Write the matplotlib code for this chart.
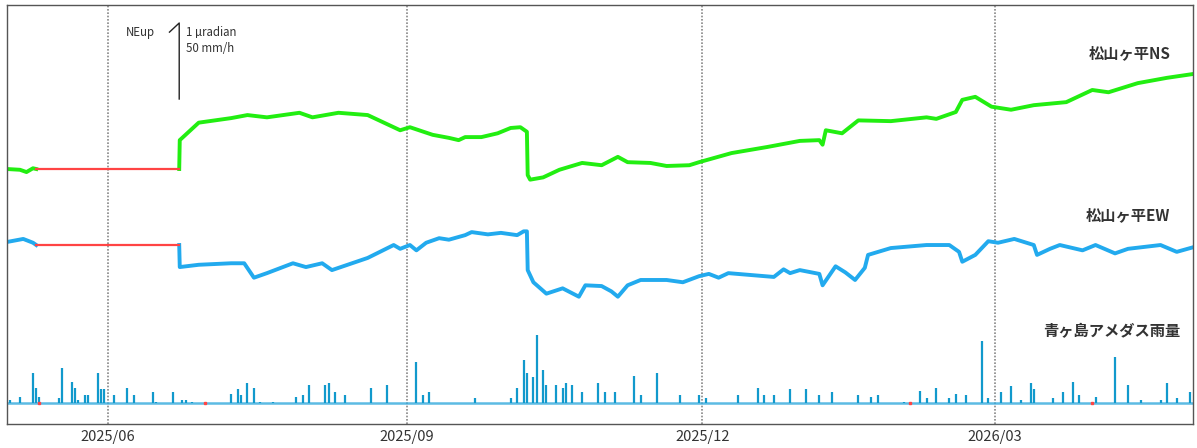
import matplotlib.pyplot as plt
import pandas as pd

# --- tilt, NS component (µradian, relative to start) ---
ns_dates = ['2025-05-01', '2025-05-05', '2025-05-07', '2025-05-09', '2025-05-10',
            '2025-06-23 00:00', '2025-06-23 04:00', '2025-06-29', '2025-07-09', '2025-07-14',
            '2025-07-20', '2025-07-30', '2025-08-03', '2025-08-11', '2025-08-20',
            '2025-08-25', '2025-08-30', '2025-09-02', '2025-09-09', '2025-09-14',
            '2025-09-17', '2025-09-19', '2025-09-24', '2025-09-29', '2025-10-03',
            '2025-10-06', '2025-10-08 00:00', '2025-10-08 06:00', '2025-10-09', '2025-10-13',
            '2025-10-18', '2025-10-25', '2025-10-31', '2025-11-05', '2025-11-08',
            '2025-11-15', '2025-11-20', '2025-11-27', '2025-11-30', '2025-12-10',
            '2025-12-21', '2025-12-31', '2026-01-06', '2026-01-07', '2026-01-08',
            '2026-01-13', '2026-01-18', '2026-01-28', '2026-02-08', '2026-02-11',
            '2026-02-17', '2026-02-19', '2026-02-23', '2026-02-28', '2026-03-06',
            '2026-03-13', '2026-03-23', '2026-03-31', '2026-04-05', '2026-04-14',
            '2026-04-23', '2026-05-01']
ns_vals = [0.00, -0.01, -0.04, 0.01, 0.00,
           0.00, 0.38, 0.61, 0.67, 0.71,
           0.68, 0.74, 0.68, 0.74, 0.71,
           0.61, 0.51, 0.55, 0.45, 0.41,
           0.38, 0.42, 0.42, 0.47, 0.54,
           0.55, 0.49, -0.08, -0.14, -0.11,
           -0.01, 0.08, 0.05, 0.16, 0.09,
           0.08, 0.04, 0.05, 0.09, 0.21,
           0.29, 0.37, 0.38, 0.32, 0.51,
           0.47, 0.64, 0.63, 0.68, 0.66,
           0.75, 0.91, 0.95, 0.82, 0.78,
           0.84, 0.88, 1.04, 1.01, 1.13,
           1.20, 1.25]

# --- tilt, EW component (µradian, relative to start) ---
ew_dates = ['2025-05-01', '2025-05-06', '2025-05-09', '2025-05-10',
            '2025-06-23 00:00', '2025-06-23 04:00', '2025-06-29', '2025-07-09', '2025-07-13',
            '2025-07-16', '2025-07-20', '2025-07-28', '2025-08-01', '2025-08-06',
            '2025-08-09', '2025-08-20', '2025-08-28', '2025-08-30', '2025-09-02',
            '2025-09-04', '2025-09-07', '2025-09-11', '2025-09-14', '2025-09-19',
            '2025-09-21', '2025-09-26', '2025-09-30', '2025-10-05', '2025-10-07',
            '2025-10-08 00:00', '2025-10-08 06:00', '2025-10-10', '2025-10-14', '2025-10-19',
            '2025-10-24', '2025-10-26', '2025-10-31', '2025-11-03', '2025-11-05',
            '2025-11-08', '2025-11-12', '2025-11-20', '2025-11-25', '2025-11-30',
            '2025-12-03', '2025-12-06', '2025-12-09', '2025-12-23', '2025-12-26',
            '2025-12-28', '2025-12-31', '2026-01-06', '2026-01-07', '2026-01-11',
            '2026-01-14', '2026-01-17', '2026-01-20', '2026-01-21', '2026-01-28',
            '2026-02-08', '2026-02-15', '2026-02-18', '2026-02-19', '2026-02-23',
            '2026-02-27', '2026-03-02', '2026-03-07', '2026-03-13', '2026-03-14',
            '2026-03-18', '2026-03-21', '2026-03-28', '2026-04-01', '2026-04-07',
            '2026-04-11', '2026-04-21', '2026-04-26', '2026-05-01']
ew_vals = [0.04, 0.08, 0.03, 0.00,
           0.00, -0.29, -0.26, -0.24, -0.24,
           -0.43, -0.37, -0.24, -0.29, -0.24,
           -0.33, -0.17, 0.00, -0.05, 0.00,
           -0.07, 0.03, 0.09, 0.07, 0.13,
           0.17, 0.14, 0.16, 0.13, 0.18,
           0.18, -0.33, -0.49, -0.64, -0.57,
           -0.68, -0.53, -0.54, -0.61, -0.68,
           -0.53, -0.46, -0.46, -0.49, -0.41,
           -0.38, -0.43, -0.37, -0.42, -0.32,
           -0.37, -0.33, -0.38, -0.53, -0.28,
           -0.36, -0.46, -0.30, -0.13, -0.04,
           0.00, 0.00, -0.09, -0.22, -0.13,
           0.05, 0.03, 0.08, 0.00, -0.13,
           -0.05, 0.00, -0.07, 0.00, -0.11,
           -0.05, 0.00, -0.09, -0.03]

# missing tilt data period (drawn in red)
gap_start = '2025-05-10'
gap_end = '2025-06-23'

# --- hourly rain at Aogashima AMeDAS (mm/h) ---
rain_dates = ['2025-05-02', '2025-05-05', '2025-05-09', '2025-05-10', '2025-05-11',
              '2025-05-17', '2025-05-18', '2025-05-21', '2025-05-22', '2025-05-23',
              '2025-05-25', '2025-05-26', '2025-05-29', '2025-05-30', '2025-05-31',
              '2025-06-03', '2025-06-07', '2025-06-09', '2025-06-15', '2025-06-16',
              '2025-06-21', '2025-06-24', '2025-06-25', '2025-06-27', '2025-07-09',
              '2025-07-11', '2025-07-12', '2025-07-14', '2025-07-16', '2025-07-18',
              '2025-07-22', '2025-07-29', '2025-07-31', '2025-08-02', '2025-08-07',
              '2025-08-08', '2025-08-10', '2025-08-13', '2025-08-21', '2025-08-26',
              '2025-09-04', '2025-09-06', '2025-09-08', '2025-09-22', '2025-10-03',
              '2025-10-05', '2025-10-07', '2025-10-08', '2025-10-10', '2025-10-11',
              '2025-10-13', '2025-10-14', '2025-10-17', '2025-10-19', '2025-10-20',
              '2025-10-22', '2025-10-25', '2025-10-30', '2025-11-01', '2025-11-04',
              '2025-11-10', '2025-11-12', '2025-11-17', '2025-11-24', '2025-11-30',
              '2025-12-02', '2025-12-12', '2025-12-18', '2025-12-20', '2025-12-23',
              '2025-12-28', '2026-01-02', '2026-01-06', '2026-01-10', '2026-01-18',
              '2026-01-22', '2026-01-24', '2026-02-01', '2026-02-06', '2026-02-08',
              '2026-02-11', '2026-02-15', '2026-02-17', '2026-02-20', '2026-02-25',
              '2026-02-27', '2026-03-03', '2026-03-06', '2026-03-09', '2026-03-12',
              '2026-03-13', '2026-03-19', '2026-03-22', '2026-03-25', '2026-03-27',
              '2026-04-01', '2026-04-07', '2026-04-11', '2026-04-15', '2026-04-21',
              '2026-04-23', '2026-04-26', '2026-04-30']
rain_vals = [2, 4, 20, 10, 4,
             3, 23, 14, 10, 2,
             5, 5, 20, 9, 9,
             5, 10, 5, 7, 1,
             7, 2, 2, 1, 6,
             9, 5, 13, 10, 1,
             1, 4, 5, 12, 12,
             13, 7, 5, 10, 12,
             27, 5, 7, 3, 3,
             10, 28, 20, 17, 45,
             22, 12, 12, 10, 13,
             12, 7, 13, 7, 7,
             18, 5, 20, 5, 5,
             3, 5, 10, 5, 5,
             9, 9, 5, 7, 5,
             4, 5, 1, 8, 3,
             10, 3, 6, 5, 41,
             3, 7, 11, 2, 13,
             9, 3, 7, 14, 5,
             4, 30, 12, 2, 2,
             13, 3, 7]

# missing rain observations (red marks on the baseline)
rain_missing = ['2025-05-11', '2025-07-01', '2026-02-03', '2026-03-31']

tick_dates = ['2025-06-01', '2025-09-01', '2025-12-01', '2026-03-01']
tick_labels = ['2025/06', '2025/09', '2025/12', '2026/03']

# vertical placement of each trace (µradian units)
ns_base = 3.355
ew_base = 2.355
rain_base = 0.276
rain_per_urad = 50.0  # 50 mm/h <-> 1 µradian

jp_font = ['Noto Sans CJK JP', 'DejaVu Sans']
plt.rcParams['font.family'] = jp_font

ns_t = pd.to_datetime(ns_dates, format='mixed')
ew_t = pd.to_datetime(ew_dates, format='mixed')
rain_t = pd.to_datetime(rain_dates)
g0, g1 = pd.Timestamp(gap_start), pd.Timestamp(gap_end)

fig = plt.figure(figsize=(11.97, 4.48), dpi=100)
ax = fig.add_axes([7 / 1197, 24 / 448, 1186 / 1197, 419 / 448])

green = '#22ee11'
blue = '#22aaee'
red = '#ff4444'

for t, v, base, col in [(ns_t, ns_vals, ns_base, green), (ew_t, ew_vals, ew_base, blue)]:
    s = pd.Series(v, index=t) + base
    before = s[s.index <= g0]
    after = s[s.index >= g1]
    ax.plot(before.index, before.values, color=col, lw=2.8)
    ax.plot(after.index, after.values, color=col, lw=2.8)
    ax.plot([g0, g1], [before.values[-1]] * 2, color=red, lw=1.6, zorder=3)

# rain
ax.axhline(rain_base, color='#33aadd', lw=1.8, alpha=0.8, zorder=2)
ax.vlines(rain_t, rain_base, rain_base + pd.Series(rain_vals).values / rain_per_urad,
          color='#1199cc', lw=1.6, zorder=3)
ax.plot(pd.to_datetime(rain_missing), [rain_base] * len(rain_missing), 's',
        color=red, ms=1.5, zorder=4)

# month grid
for d in tick_dates:
    ax.axvline(pd.Timestamp(d), color='#888888', ls=(0, (1, 1)), lw=1.2, zorder=1)

# scale bar
sb_t = g1
sb_lo = (424 - 99) / 76
ax.plot([sb_t - pd.Timedelta(days=3), sb_t, sb_t], [sb_lo + 0.88, sb_lo + 1.0, sb_lo],
        color='#222222', lw=1)
ax.text(sb_t - pd.Timedelta(days=7.5), sb_lo + 0.88, 'NEup', fontsize=8.3,
        color='#333333', ha='right', va='center')
ax.text(sb_t + pd.Timedelta(days=2), sb_lo + 0.88, '1 µradian', fontsize=8.3,
        color='#333333', ha='left', va='center')
ax.text(sb_t + pd.Timedelta(days=2), sb_lo + 0.66, '50 mm/h', fontsize=8.3,
        color='#333333', ha='left', va='center')

# labels
lab_x = pd.Timestamp('2026-04-24')
ax.text(lab_x, (424 - 53) / 76, '松山ヶ平NS', ha='right', va='center', fontsize=11,
        color='#333333', fontweight='bold')
ax.text(lab_x, (424 - 215) / 76, '松山ヶ平EW', ha='right', va='center', fontsize=11,
        color='#333333', fontweight='bold')
ax.text(pd.Timestamp('2026-04-27'), (424 - 331) / 76, '青ヶ島アメダス雨量', ha='right',
        va='center', fontsize=11, color='#333333', fontweight='bold')

ax.set_xlim(pd.Timestamp('2025-05-01'), pd.Timestamp('2026-05-01'))
ax.set_ylim(0, 419 / 76)
ax.set_yticks([])
ax.set_xticks(pd.to_datetime(tick_dates))
ax.set_xticklabels(tick_labels, fontsize=10.5, color='#333333')
ax.tick_params(axis='x', length=0, pad=4)
for sp in ax.spines.values():
    sp.set_color('#555555')
    sp.set_linewidth(1)

fig.savefig('out.png', dpi=100)
